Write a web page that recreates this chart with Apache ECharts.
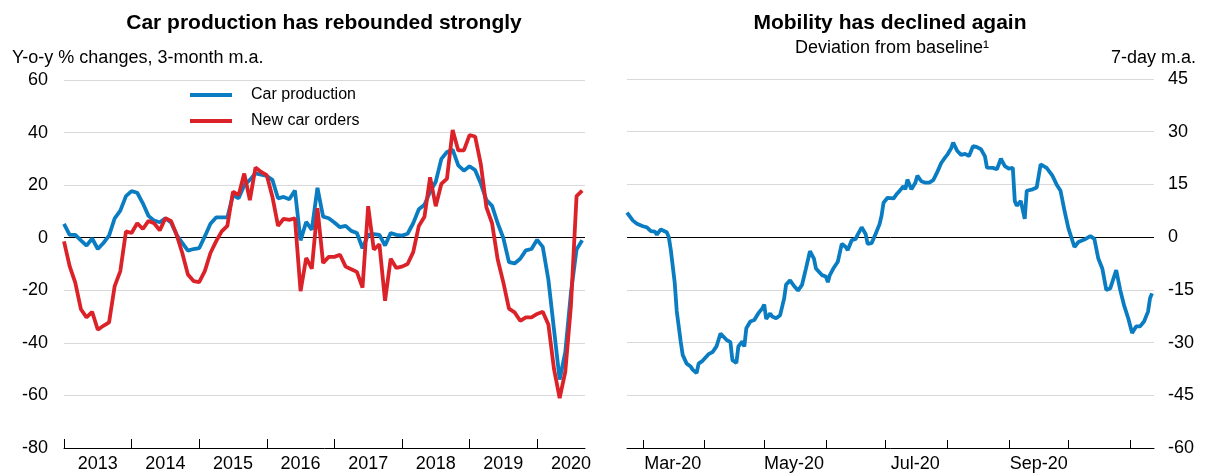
<!DOCTYPE html>
<html>
<head>
<meta charset="utf-8">
<script src="https://cdn.jsdelivr.net/npm/echarts@6/dist/echarts.min.js"></script>
<style>
  html, body { margin: 0; padding: 0; background: #fff; }
  #chart { width: 1205px; height: 473px; }
</style>
</head>
<body>
<div id="chart"></div>
<script>
// ---- Left panel: monthly data, Jan 2013 (index 0) to Sep 2020 (index 92) ----
const startYear = 2013;
const yearLabels = ['2013', '2014', '2015', '2016', '2017', '2018', '2019', '2020'];

const carProduction = [
  5.3, 1.1, 1.1, -1, -3, -0.3, -4.3, -2, 0.8, 7.4, 10.3, 15.8,
  17.7, 17.1, 13.1, 8.3, 6.5, 5.9, 7.4, 5.8, 1.1, -2, -4.9, -4.3,
  -4, 0.5, 5.3, 7.7, 7.7, 7.7, 16.2, 15, 20, 22, 24.5, 24,
  23.5, 22, 15, 15.5, 14.6, 18, -1, 6, 3, 19, 8, 7.4,
  5.8, 4, 4.5, 2.6, 1.8, -4, 1.1, 1.4, 1.1, -3, 1.8, 1.1,
  0.8, 1.5, 5.5, 10.8, 12.5, 17.5, 21.3, 30, 32.6, 33.5, 27.5, 25.5,
  27.2, 25.7, 20.6, 14.3, 12.1, 5.5, -0.1, -9.3, -9.8, -8, -4.8, -4.3,
  -0.8, -3.5, -16, -35, -54, -43.5, -21, -4.5, -1
];

const newCarOrders = [
  -1.4, -10.8, -17.1, -27.2, -30.3, -28.2, -35, -33.5, -32.2, -18.4, -12.7, 2.4,
  1.8, 5.5, 3.3, 6.4, 5.5, 2.8, 7.4, 6.4, 1.1, -5.8, -14, -16.5,
  -16.9, -12.7, -5.8, -1.4, 2.4, 4.5, 17.5, 16.2, 24.4, 14.3, 26.7, 25,
  23.8, 15.6, 4.5, 7.2, 6.8, 7.4, -20.3, -7.7, -11.8, 11.2, -9.6, -7.3,
  -7.3, -6.5, -11, -12, -13, -19, 12, -4.5, -2.5, -24, -8, -11.5,
  -11, -10, -5.5, 4.5, 8, 23, 12, 20.5, 22.5, 41, 33.2, 33.2,
  39, 38.5, 28, 11.5, 5.5, -8.3, -17, -27, -28.4, -31.6, -30.3, -30.3,
  -29, -28.2, -33, -50, -61, -51, -26, 15.8, 17.9
];

// ---- Right panel: mobility, deviation from baseline (7-day m.a.) ----
const mobilityDates = [
  '2020-02-22', '2020-02-25', '2020-02-27', '2020-03-01', '2020-03-03', '2020-03-05', '2020-03-07', '2020-03-08',
  '2020-03-10', '2020-03-11', '2020-03-13', '2020-03-14', '2020-03-15', '2020-03-17', '2020-03-18', '2020-03-20',
  '2020-03-21', '2020-03-23', '2020-03-25', '2020-03-26', '2020-03-28', '2020-03-29', '2020-03-31', '2020-04-03',
  '2020-04-05', '2020-04-07', '2020-04-09', '2020-04-10', '2020-04-12', '2020-04-14', '2020-04-15', '2020-04-17',
  '2020-04-18', '2020-04-20', '2020-04-21', '2020-04-22', '2020-04-24', '2020-04-26', '2020-04-28', '2020-04-30',
  '2020-05-01', '2020-05-02', '2020-05-04', '2020-05-05', '2020-05-07', '2020-05-09', '2020-05-11', '2020-05-12',
  '2020-05-14', '2020-05-16', '2020-05-18', '2020-05-20', '2020-05-22', '2020-05-24', '2020-05-26', '2020-05-27',
  '2020-05-30', '2020-06-01', '2020-06-02', '2020-06-03', '2020-06-05', '2020-06-07', '2020-06-09', '2020-06-11',
  '2020-06-12', '2020-06-14', '2020-06-16', '2020-06-17', '2020-06-19', '2020-06-21', '2020-06-22', '2020-06-24',
  '2020-06-26', '2020-06-28', '2020-06-29', '2020-06-30', '2020-07-02', '2020-07-03', '2020-07-05', '2020-07-07',
  '2020-07-08', '2020-07-10', '2020-07-11', '2020-07-12', '2020-07-14', '2020-07-16', '2020-07-17', '2020-07-19',
  '2020-07-21', '2020-07-23', '2020-07-25', '2020-07-27', '2020-07-29', '2020-07-31', '2020-08-01', '2020-08-03',
  '2020-08-04', '2020-08-06', '2020-08-08', '2020-08-10', '2020-08-12', '2020-08-14', '2020-08-16', '2020-08-18',
  '2020-08-20', '2020-08-21', '2020-08-24', '2020-08-26', '2020-08-28', '2020-08-30', '2020-09-01', '2020-09-03',
  '2020-09-04', '2020-09-05', '2020-09-07', '2020-09-09', '2020-09-10', '2020-09-13', '2020-09-15', '2020-09-17',
  '2020-09-20', '2020-09-23', '2020-09-25', '2020-09-27', '2020-09-29', '2020-10-01', '2020-10-04', '2020-10-06',
  '2020-10-09', '2020-10-12', '2020-10-14', '2020-10-16', '2020-10-18', '2020-10-20', '2020-10-22', '2020-10-25',
  '2020-10-27', '2020-10-29', '2020-10-31', '2020-11-02', '2020-11-04', '2020-11-06', '2020-11-08', '2020-11-10',
  '2020-11-11', '2020-11-12'
];
const mobilityValues = [
  7, 4.7, 3.8, 3.1, 2.8, 1.7, 1.6, 0.7,
  2.2, 2.5, 1.4, 0, -3.5, -13, -21, -29.7,
  -33.5, -36, -36.8, -37.7, -38.7, -36, -35.2, -33.3,
  -32.7, -31.1, -27.4, -26.9, -29.2, -29.9, -35, -35.8,
  -31.1, -29.7, -31.1, -25.9, -24, -23.6, -21.7, -20.3,
  -19.2, -23.3, -21.7, -22.6, -23.1, -22.2, -17.5, -13.5,
  -12.3, -13.9, -15.2, -13.6, -8.9, -4, -6.1, -8.9,
  -10.8, -11.2, -12.8, -10.8, -8.7, -7, -1.9, -2.8,
  -3.7, -0.9, -0.5, 0.7, 2.8, 0.9, -1.9, -1.7,
  0.9, 3.7, 6.1, 9.8, 11.2, 11.7, 11, 12.5,
  13.1, 14.5, 13.6, 16.4, 13.6, 15.5, 17.5, 15.9,
  15.5, 15.5, 16.2, 18.5, 21.1, 22.7, 23.4, 25.3,
  26.9, 24.6, 23.4, 23.7, 23.1, 25.9, 25.6, 25,
  23, 19.8, 19.7, 19.3, 22.3, 20.2, 19.5, 19.7,
  10.3, 8.9, 10.3, 5.2, 13.2, 13.6, 14.1, 20.7,
  19.7, 17.4, 15, 13.2, 7.5, 2.4, -2.8, -1.4,
  -0.7, 0.3, -0.5, -6.1, -8.9, -15, -14.6, -9.4,
  -15, -19.5, -23, -27.3, -25.4, -25.4, -24, -21.2,
  -17.4, -16
];
const monthNames = ['Jan', 'Feb', 'Mar', 'Apr', 'May', 'Jun', 'Jul', 'Aug', 'Sep', 'Oct', 'Nov', 'Dec'];

const FONT = '"Liberation Sans", Arial, sans-serif';
const BLUE = '#0a7dc2';
const RED = '#dc2229';
const GRID_GREY = '#d9d9d9';
const LINE_W = 3.8;

// split line colours: the zero line (5th of 8 lines from the bottom) is black
const splitColours = [GRID_GREY, GRID_GREY, GRID_GREY, GRID_GREY, '#000', GRID_GREY, GRID_GREY, GRID_GREY];

const yearTicks = yearLabels.map((_, i) => i * 12);
const yearLabelPos = yearLabels.map((_, i) => i * 12 + 6);

// dates as local-time milliseconds on a plain value axis
const day = (y, m, d) => new Date(y, m, d).getTime();
const parseDay = s => { const p = s.split('-').map(Number); return day(p[0], p[1] - 1, p[2]); };
const monthStarts = [];
for (let m = 2; m <= 10; m++) monthStarts.push(day(2020, m, 1));
const monthLabelPos = [2, 4, 6, 8].map(m => day(2020, m, 16));

const chart = echarts.init(document.getElementById('chart'), null, { renderer: 'canvas' });

const txt = (x, y, text, size, align, bold) => ({
  type: 'text', x, y,
  style: { text, fontFamily: FONT, fontSize: size, fontWeight: bold ? 'bold' : 'normal', fill: '#000', align, verticalAlign: 'middle' }
});

chart.setOption({
  backgroundColor: '#fff',
  animation: false,
  textStyle: { fontFamily: FONT },
  graphic: [
    txt(324, 23, 'Car production has rebounded strongly', 21, 'center', true),
    txt(12, 58, 'Y-o-y % changes, 3-month m.a.', 18, 'left', false),
    txt(890, 23, 'Mobility has declined again', 21, 'center', true),
    txt(892, 48, 'Deviation from baseline\u00b9', 18, 'center', false),
    txt(1196, 58, '7-day m.a.', 18, 'right', false)
  ],
  legend: {
    data: ['Car production', 'New car orders'],
    orient: 'vertical',
    left: 185,
    top: 82,
    icon: 'rect',
    itemWidth: 42,
    itemHeight: 4,
    itemGap: 10,
    textStyle: { fontFamily: FONT, fontSize: 16, color: '#000', padding: [0, 0, 0, 14] }
  },
  grid: [
    { left: 64, right: 620, top: 80, bottom: 23, containLabel: false },
    { left: 627, right: 51, top: 79, bottom: 23, containLabel: false }
  ],
  xAxis: [
    {
      type: 'value', gridIndex: 0, min: 0, max: 92.5,
      axisLine: { show: true, onZero: false, lineStyle: { color: '#000', width: 1 } },
      axisTick: { show: true, inside: true, length: 9, customValues: yearTicks, lineStyle: { color: '#000' } },
      axisLabel: {
        show: true, customValues: yearLabelPos, margin: 7,
        fontFamily: FONT, fontSize: 18, color: '#000',
        formatter: v => String(startYear + Math.round((v - 6) / 12))
      },
      splitLine: { show: false }
    },
    {
      type: 'value', gridIndex: 1, min: day(2020, 1, 22), max: day(2020, 10, 13),
      axisLine: { show: true, onZero: false, lineStyle: { color: '#000', width: 1 } },
      axisTick: { show: true, inside: true, length: 8, customValues: monthStarts, lineStyle: { color: '#000' } },
      axisLabel: {
        show: true, customValues: monthLabelPos, margin: 7,
        fontFamily: FONT, fontSize: 18, color: '#000',
        formatter: v => { const d = new Date(v); return monthNames[d.getMonth()] + '-' + String(d.getFullYear()).slice(2); }
      },
      splitLine: { show: false }
    }
  ],
  yAxis: [
    {
      type: 'value', gridIndex: 0, min: -80, max: 60, interval: 20, position: 'left',
      axisLine: { show: false }, axisTick: { show: false },
      axisLabel: { fontFamily: FONT, fontSize: 18, color: '#000', margin: 16 },
      splitLine: { show: true, lineStyle: { color: splitColours, width: 1 } }
    },
    {
      type: 'value', gridIndex: 1, min: -60, max: 45, interval: 15, position: 'right',
      axisLine: { show: false }, axisTick: { show: false },
      axisLabel: { fontFamily: FONT, fontSize: 18, color: '#000', margin: 14 },
      splitLine: { show: true, lineStyle: { color: splitColours, width: 1 } }
    }
  ],
  series: [
    {
      name: 'Car production', type: 'line', xAxisIndex: 0, yAxisIndex: 0,
      data: carProduction.map((v, i) => [i, v]),
      showSymbol: false, symbol: 'none', color: BLUE,
      lineStyle: { color: BLUE, width: LINE_W }, z: 3
    },
    {
      name: 'New car orders', type: 'line', xAxisIndex: 0, yAxisIndex: 0,
      data: newCarOrders.map((v, i) => [i, v]),
      showSymbol: false, symbol: 'none', color: RED,
      lineStyle: { color: RED, width: LINE_W }, z: 4
    },
    {
      name: 'Mobility', type: 'line', xAxisIndex: 1, yAxisIndex: 1,
      data: mobilityDates.map((d, i) => [parseDay(d), mobilityValues[i]]),
      showSymbol: false, symbol: 'none', color: BLUE,
      lineStyle: { color: BLUE, width: LINE_W }, z: 3
    }
  ]
});
</script>
</body>
</html>
